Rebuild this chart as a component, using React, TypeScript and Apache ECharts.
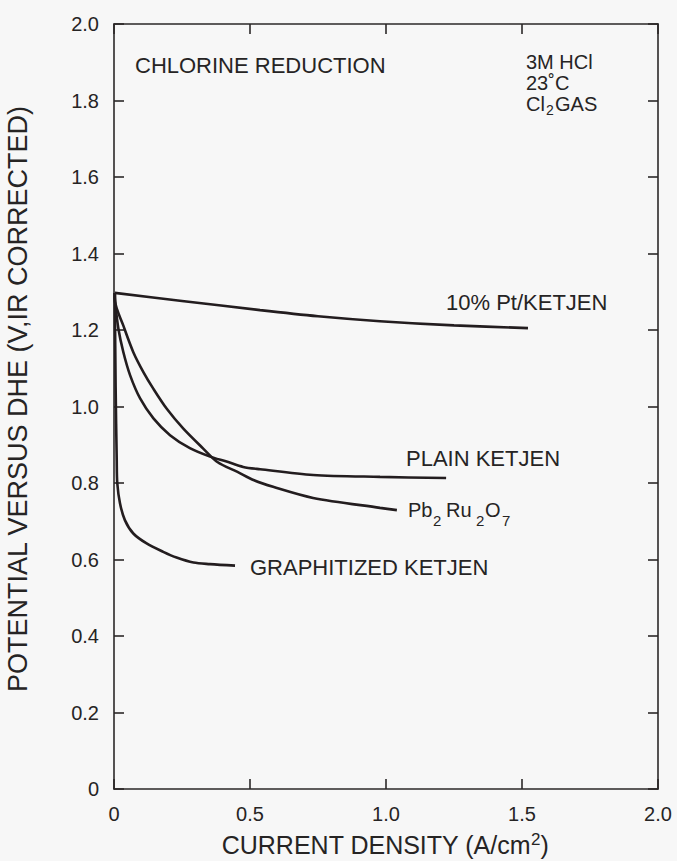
import React, { useEffect, useRef } from "react";
import * as echarts from "echarts";

const xTicks = [0, 0.5, 1.0, 1.5, 2.0];
const yTicks = [0, 0.2, 0.4, 0.6, 0.8, 1.0, 1.2, 1.4, 1.6, 1.8, 2.0];

const ptKetjen: [number, number][] = [
  [0.003, 1.297], [0.25, 1.276], [0.537, 1.252], [0.75, 1.236], [0.978, 1.223], [1.25, 1.212], [1.522, 1.205],
];

const plainKetjen: [number, number][] = [
  [0.003, 1.297], [0.004, 1.274], [0.016, 1.204], [0.034, 1.143], [0.059, 1.082], [0.096, 1.021],
  [0.145, 0.969], [0.206, 0.925], [0.279, 0.891], [0.353, 0.869], [0.414, 0.856], [0.475, 0.842],
  [0.537, 0.836], [0.732, 0.821], [0.978, 0.816], [1.221, 0.813],
];

const pbRuO: [number, number][] = [
  [0.003, 1.297], [0.004, 1.274], [0.034, 1.212], [0.071, 1.142], [0.108, 1.09], [0.145, 1.046],
  [0.194, 0.994], [0.255, 0.942], [0.328, 0.89], [0.38, 0.855], [0.454, 0.829], [0.515, 0.807],
  [0.585, 0.79], [0.732, 0.761], [0.978, 0.735], [1.04, 0.729],
];

const graphitized: [number, number][] = [
  [0.003, 1.297], [0.006, 1.05], [0.01, 0.86], [0.012, 0.8], [0.022, 0.747], [0.04, 0.703],
  [0.071, 0.668], [0.12, 0.642], [0.181, 0.62], [0.23, 0.605], [0.292, 0.592], [0.353, 0.588], [0.445, 0.584],
];

const FONT = '"Liberation Sans", Arial, Helvetica, sans-serif';
const INK = "#231d1f";
const TXT = "#262424";

type T = { t: string; x: number; y: number; s: number };
// label pieces (text, left, vertical centre, font size)
const pieces: T[] = [
  { t: "CHLORINE REDUCTION", x: 135, y: 65, s: 22 },
  { t: "3M HCl", x: 526, y: 62, s: 20 },
  { t: "23˚C", x: 526, y: 83, s: 20 },
  { t: "Cl", x: 526, y: 104, s: 20 },
  { t: "2", x: 546, y: 110, s: 14 },
  { t: "GAS", x: 555, y: 104, s: 20 },
  { t: "10% Pt/KETJEN", x: 446, y: 302, s: 22 },
  { t: "PLAIN KETJEN", x: 406, y: 458, s: 22 },
  { t: "Pb", x: 408, y: 510, s: 20 },
  { t: "2", x: 433, y: 520, s: 15 },
  { t: "Ru", x: 446, y: 510, s: 20 },
  { t: "2", x: 476, y: 520, s: 15 },
  { t: "O", x: 485, y: 510, s: 20 },
  { t: "7", x: 502, y: 520, s: 15 },
  { t: "GRAPHITIZED KETJEN", x: 250, y: 567, s: 22 },
];

export default function App() {
  const ref = useRef<HTMLDivElement>(null);
  useEffect(() => {
    if (!ref.current) return;
    const chart = echarts.init(ref.current, undefined, { renderer: "svg" });
    const lineStyle = { color: INK, width: 2.6 };
    const mk = (name: string, data: [number, number][]) => ({
      type: "line",
      name,
      data,
      showSymbol: false,
      smooth: 0.3,
      lineStyle,
      z: 3,
    });
    const axisLine = { show: true, onZero: false, lineStyle: { color: "#2b2828", width: 1.6 } };
    const axisTick = { show: true, inside: true, length: 10, lineStyle: { color: "#2b2828", width: 1.6 } };
    const fmt = (v: number) => (v === 0 ? "0" : v.toFixed(1));
    chart.setOption({
      animation: false,
      backgroundColor: "#f7f7f7",
      grid: { left: 114, right: 19, top: 24, bottom: 72 },
      xAxis: [
        {
          type: "value", position: "bottom", min: 0, max: 2, interval: 0.5,
          axisLine, axisTick, splitLine: { show: false },
          axisLabel: { margin: 15, fontSize: 20, color: TXT, fontFamily: FONT, formatter: fmt, customValues: xTicks },
        },
        {
          type: "value", position: "top", min: 0, max: 2, interval: 0.5,
          axisLine, axisTick, splitLine: { show: false }, axisLabel: { show: false },
        },
      ],
      yAxis: [
        {
          type: "value", position: "left", min: 0, max: 2, interval: 0.2,
          axisLine, axisTick, splitLine: { show: false },
          axisLabel: { margin: 15, fontSize: 20, color: TXT, fontFamily: FONT, formatter: fmt, customValues: yTicks },
        },
        {
          type: "value", position: "right", min: 0, max: 2, interval: 0.2,
          axisLine, axisTick, splitLine: { show: false }, axisLabel: { show: false },
        },
      ],
      series: [
        mk("10% Pt/KETJEN", ptKetjen),
        mk("PLAIN KETJEN", plainKetjen),
        mk("Pb2Ru2O7", pbRuO),
        mk("GRAPHITIZED KETJEN", graphitized),
      ],
      graphic: [
        ...pieces.map((p) => ({
          type: "text", x: p.x, y: p.y,
          style: { text: p.t, font: `${p.s}px ${FONT}`, fill: TXT, align: "left", verticalAlign: "middle" },
        })),
        {
          type: "text", x: 18, y: 399, rotation: Math.PI / 2,
          style: {
            text: "POTENTIAL VERSUS DHE (V,IR CORRECTED)",
            font: `27px ${FONT}`, fill: TXT, align: "center", verticalAlign: "middle",
          },
        },
        {
          type: "text", x: 385, y: 845,
          style: {
            text: "{n|CURRENT DENSITY (A/cm}{p|2}{n|)}",
            align: "center", verticalAlign: "middle", fill: TXT,
            rich: {
              n: { fontSize: 25, fontFamily: FONT, fill: TXT, lineHeight: 28 },
              p: { fontSize: 17, fontFamily: FONT, fill: TXT, verticalAlign: "top", lineHeight: 12 },
            },
          },
        },
      ],
    });
    return () => chart.dispose();
  }, []);
  return <div ref={ref} style={{ width: 677, height: 861, position: "absolute", left: 0, top: 0 }} />;
}
